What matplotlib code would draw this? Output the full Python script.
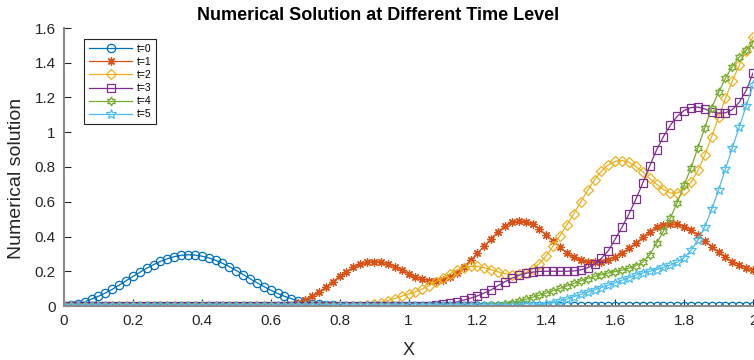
import matplotlib
matplotlib.use("Agg")
import matplotlib.pyplot as plt
import numpy as np
from matplotlib.ticker import FormatStrFormatter

plt.rcParams['font.family'] = ['Liberation Sans', 'DejaVu Sans']

# grid of 101 points on [0, 2]
x = np.linspace(0, 2, 101)

# values, one per grid point
t0 = [0.000, 0.004, 0.012, 0.024, 0.040, 0.056, 0.075, 0.096, 0.120, 0.145,
      0.170, 0.194, 0.217, 0.238, 0.257, 0.272, 0.284, 0.292, 0.295, 0.293,
      0.287, 0.277, 0.263, 0.246, 0.226, 0.204, 0.181, 0.157, 0.134, 0.112,
      0.091, 0.072, 0.056, 0.042, 0.030, 0.021, 0.014, 0.009, 0.005, 0.003,
      0.002, 0.001, 0.000, 0.000, 0.000, 0.000, 0.000, 0.000, 0.000, 0.000,
      0.000, 0.000, 0.000, 0.000, 0.000, 0.000, 0.000, 0.000, 0.000, 0.000,
      0.000, 0.000, 0.000, 0.000, 0.000, 0.000, 0.000, 0.000, 0.000, 0.000,
      0.000, 0.000, 0.000, 0.000, 0.000, 0.000, 0.000, 0.000, 0.000, 0.000,
      0.000, 0.000, 0.000, 0.000, 0.000, 0.000, 0.000, 0.000, 0.000, 0.000,
      0.000, 0.000, 0.000, 0.000, 0.000, 0.000, 0.000, 0.000, 0.000, 0.000,
      0.000]

t1 = [0.000, 0.000, 0.000, 0.000, 0.000, 0.000, 0.000, 0.000, 0.000, 0.000,
      0.000, 0.000, 0.000, 0.000, 0.000, 0.000, 0.000, 0.000, 0.000, 0.000,
      0.000, 0.000, 0.000, 0.000, 0.000, 0.000, 0.000, 0.000, 0.000, 0.000,
      0.000, 0.000, 0.000, 0.005, 0.020, 0.036, 0.055, 0.079, 0.108, 0.140,
      0.170, 0.198, 0.222, 0.240, 0.252, 0.256, 0.253, 0.243, 0.227, 0.207,
      0.187, 0.168, 0.155, 0.146, 0.145, 0.152, 0.168, 0.192, 0.225, 0.263,
      0.303, 0.345, 0.388, 0.428, 0.460, 0.481, 0.490, 0.486, 0.470, 0.443,
      0.410, 0.374, 0.338, 0.305, 0.280, 0.263, 0.254, 0.252, 0.256, 0.266,
      0.283, 0.305, 0.332, 0.362, 0.395, 0.428, 0.453, 0.468, 0.474, 0.470,
      0.457, 0.435, 0.407, 0.375, 0.342, 0.310, 0.280, 0.255, 0.236, 0.220,
      0.208]

t2 = [0.000, 0.000, 0.000, 0.000, 0.000, 0.000, 0.000, 0.000, 0.000, 0.000,
      0.000, 0.000, 0.000, 0.000, 0.000, 0.000, 0.000, 0.000, 0.000, 0.000,
      0.000, 0.000, 0.000, 0.000, 0.000, 0.000, 0.000, 0.000, 0.000, 0.000,
      0.000, 0.000, 0.000, 0.000, 0.000, 0.000, 0.000, 0.000, 0.000, 0.000,
      0.000, 0.000, 0.000, 0.000, 0.004, 0.010, 0.020, 0.031, 0.043, 0.056,
      0.068, 0.082, 0.098, 0.117, 0.140, 0.162, 0.185, 0.205, 0.220, 0.228,
      0.228, 0.220, 0.208, 0.196, 0.186, 0.181, 0.182, 0.192, 0.212, 0.244,
      0.290, 0.345, 0.405, 0.468, 0.532, 0.600, 0.666, 0.727, 0.776, 0.812,
      0.832, 0.837, 0.827, 0.804, 0.772, 0.735, 0.700, 0.670, 0.650, 0.650,
      0.670, 0.712, 0.780, 0.870, 0.975, 1.085, 1.195, 1.295, 1.385, 1.470,
      1.550]

t3 = [0.000, 0.000, 0.000, 0.000, 0.000, 0.000, 0.000, 0.000, 0.000, 0.000,
      0.000, 0.000, 0.000, 0.000, 0.000, 0.000, 0.000, 0.000, 0.000, 0.000,
      0.000, 0.000, 0.000, 0.000, 0.000, 0.000, 0.000, 0.000, 0.000, 0.000,
      0.000, 0.000, 0.000, 0.000, 0.000, 0.000, 0.000, 0.000, 0.000, 0.000,
      0.000, 0.000, 0.000, 0.000, 0.000, 0.000, 0.000, 0.000, 0.000, 0.000,
      0.000, 0.000, 0.000, 0.002, 0.005, 0.009, 0.015, 0.024, 0.034, 0.045,
      0.058, 0.075, 0.093, 0.118, 0.140, 0.160, 0.176, 0.188, 0.195, 0.199,
      0.200, 0.200, 0.200, 0.200, 0.202, 0.208, 0.220, 0.240, 0.274, 0.318,
      0.385, 0.455, 0.530, 0.615, 0.708, 0.805, 0.898, 0.975, 1.040, 1.092,
      1.125, 1.142, 1.145, 1.134, 1.118, 1.110, 1.112, 1.130, 1.172, 1.240,
      1.340]

t4 = [0.000, 0.000, 0.000, 0.000, 0.000, 0.000, 0.000, 0.000, 0.000, 0.000,
      0.000, 0.000, 0.000, 0.000, 0.000, 0.000, 0.000, 0.000, 0.000, 0.000,
      0.000, 0.000, 0.000, 0.000, 0.000, 0.000, 0.000, 0.000, 0.000, 0.000,
      0.000, 0.000, 0.000, 0.000, 0.000, 0.000, 0.000, 0.000, 0.000, 0.000,
      0.000, 0.000, 0.000, 0.000, 0.000, 0.000, 0.000, 0.000, 0.000, 0.000,
      0.000, 0.000, 0.000, 0.000, 0.000, 0.000, 0.000, 0.000, 0.000, 0.000,
      0.000, 0.000, 0.003, 0.007, 0.012, 0.020, 0.028, 0.038, 0.050, 0.062,
      0.075, 0.088, 0.102, 0.116, 0.130, 0.145, 0.158, 0.170, 0.180, 0.190,
      0.198, 0.207, 0.218, 0.232, 0.252, 0.295, 0.360, 0.430, 0.505, 0.595,
      0.695, 0.795, 0.910, 1.025, 1.140, 1.230, 1.310, 1.378, 1.432, 1.472,
      1.510]

t5 = [0.000, 0.000, 0.000, 0.000, 0.000, 0.000, 0.000, 0.000, 0.000, 0.000,
      0.000, 0.000, 0.000, 0.000, 0.000, 0.000, 0.000, 0.000, 0.000, 0.000,
      0.000, 0.000, 0.000, 0.000, 0.000, 0.000, 0.000, 0.000, 0.000, 0.000,
      0.000, 0.000, 0.000, 0.000, 0.000, 0.000, 0.000, 0.000, 0.000, 0.000,
      0.000, 0.000, 0.000, 0.000, 0.000, 0.000, 0.000, 0.000, 0.000, 0.000,
      0.000, 0.000, 0.000, 0.000, 0.000, 0.000, 0.000, 0.000, 0.000, 0.000,
      0.000, 0.000, 0.000, 0.000, 0.000, 0.000, 0.001, 0.003, 0.005, 0.008,
      0.012, 0.019, 0.028, 0.040, 0.054, 0.067, 0.080, 0.093, 0.106, 0.120,
      0.133, 0.148, 0.163, 0.178, 0.190, 0.200, 0.210, 0.222, 0.235, 0.252,
      0.278, 0.320, 0.378, 0.456, 0.556, 0.668, 0.788, 0.910, 1.030, 1.150,
      1.270]

series = [t0, t1, t2, t3, t4, t5]
labels = ["t=0", "t=1", "t=2", "t=3", "t=4", "t=5"]
colors = ["#0072BD", "#D95319", "#EDB120", "#7E2F8E", "#77AC30", "#4DBEEE"]
markers = ["o", (8, 2, 0), "D", "s", (6, 1, 0), "*"]
msizes = [6, 6, 5.5, 5.5, 6.5, 7]

fig = plt.figure(figsize=(7.54, 3.6), dpi=100)
ax = fig.add_axes([64 / 754, 54 / 360, 689 / 754, 278 / 360])

for y, lab, c, m, ms in zip(series, labels, colors, markers, msizes):
    ax.plot(x, y, color=c, marker=m, markersize=ms, markerfacecolor="none",
            markeredgecolor=c, markeredgewidth=0.9, linewidth=0.9, label=lab)

ax.set_xlim(0, 2)
ax.set_ylim(0, 1.6)
ax.set_xticks(np.arange(0, 2.01, 0.2))
ax.set_yticks(np.arange(0, 1.61, 0.2))
ax.xaxis.set_major_formatter(FormatStrFormatter("%g"))
ax.yaxis.set_major_formatter(FormatStrFormatter("%g"))

for s in ["top", "right"]:
    ax.spines[s].set_visible(False)
for s in ["left", "bottom"]:
    ax.spines[s].set_color("#8c8c8c")
    ax.spines[s].set_linewidth(1.5)
ax.tick_params(direction="in", length=5, width=0.8, color="#262626",
               labelsize=11, labelcolor="#262626", pad=6)

ax.set_xlabel("X", fontsize=13, color="#262626", labelpad=10)
ax.set_ylabel("Numerical solution", fontsize=14, color="#262626", labelpad=10)
ax.yaxis.set_label_coords(-0.056, 0.46)
fig.text(378 / 754, 1 - 16 / 360, "Numerical Solution at Different Time Level",
         ha="center", va="center", fontsize=13, fontweight="bold")

leg = ax.legend(loc="upper left", bbox_to_anchor=(0.029, 0.960),
                borderaxespad=0, fontsize=7.5, handlelength=4.2,
                numpoints=1, fancybox=False, framealpha=1,
                edgecolor="#262626", labelspacing=0.3, borderpad=0.45,
                handletextpad=0.4)
leg.get_frame().set_linewidth(0.8)

fig.savefig("out.png", dpi=100)
